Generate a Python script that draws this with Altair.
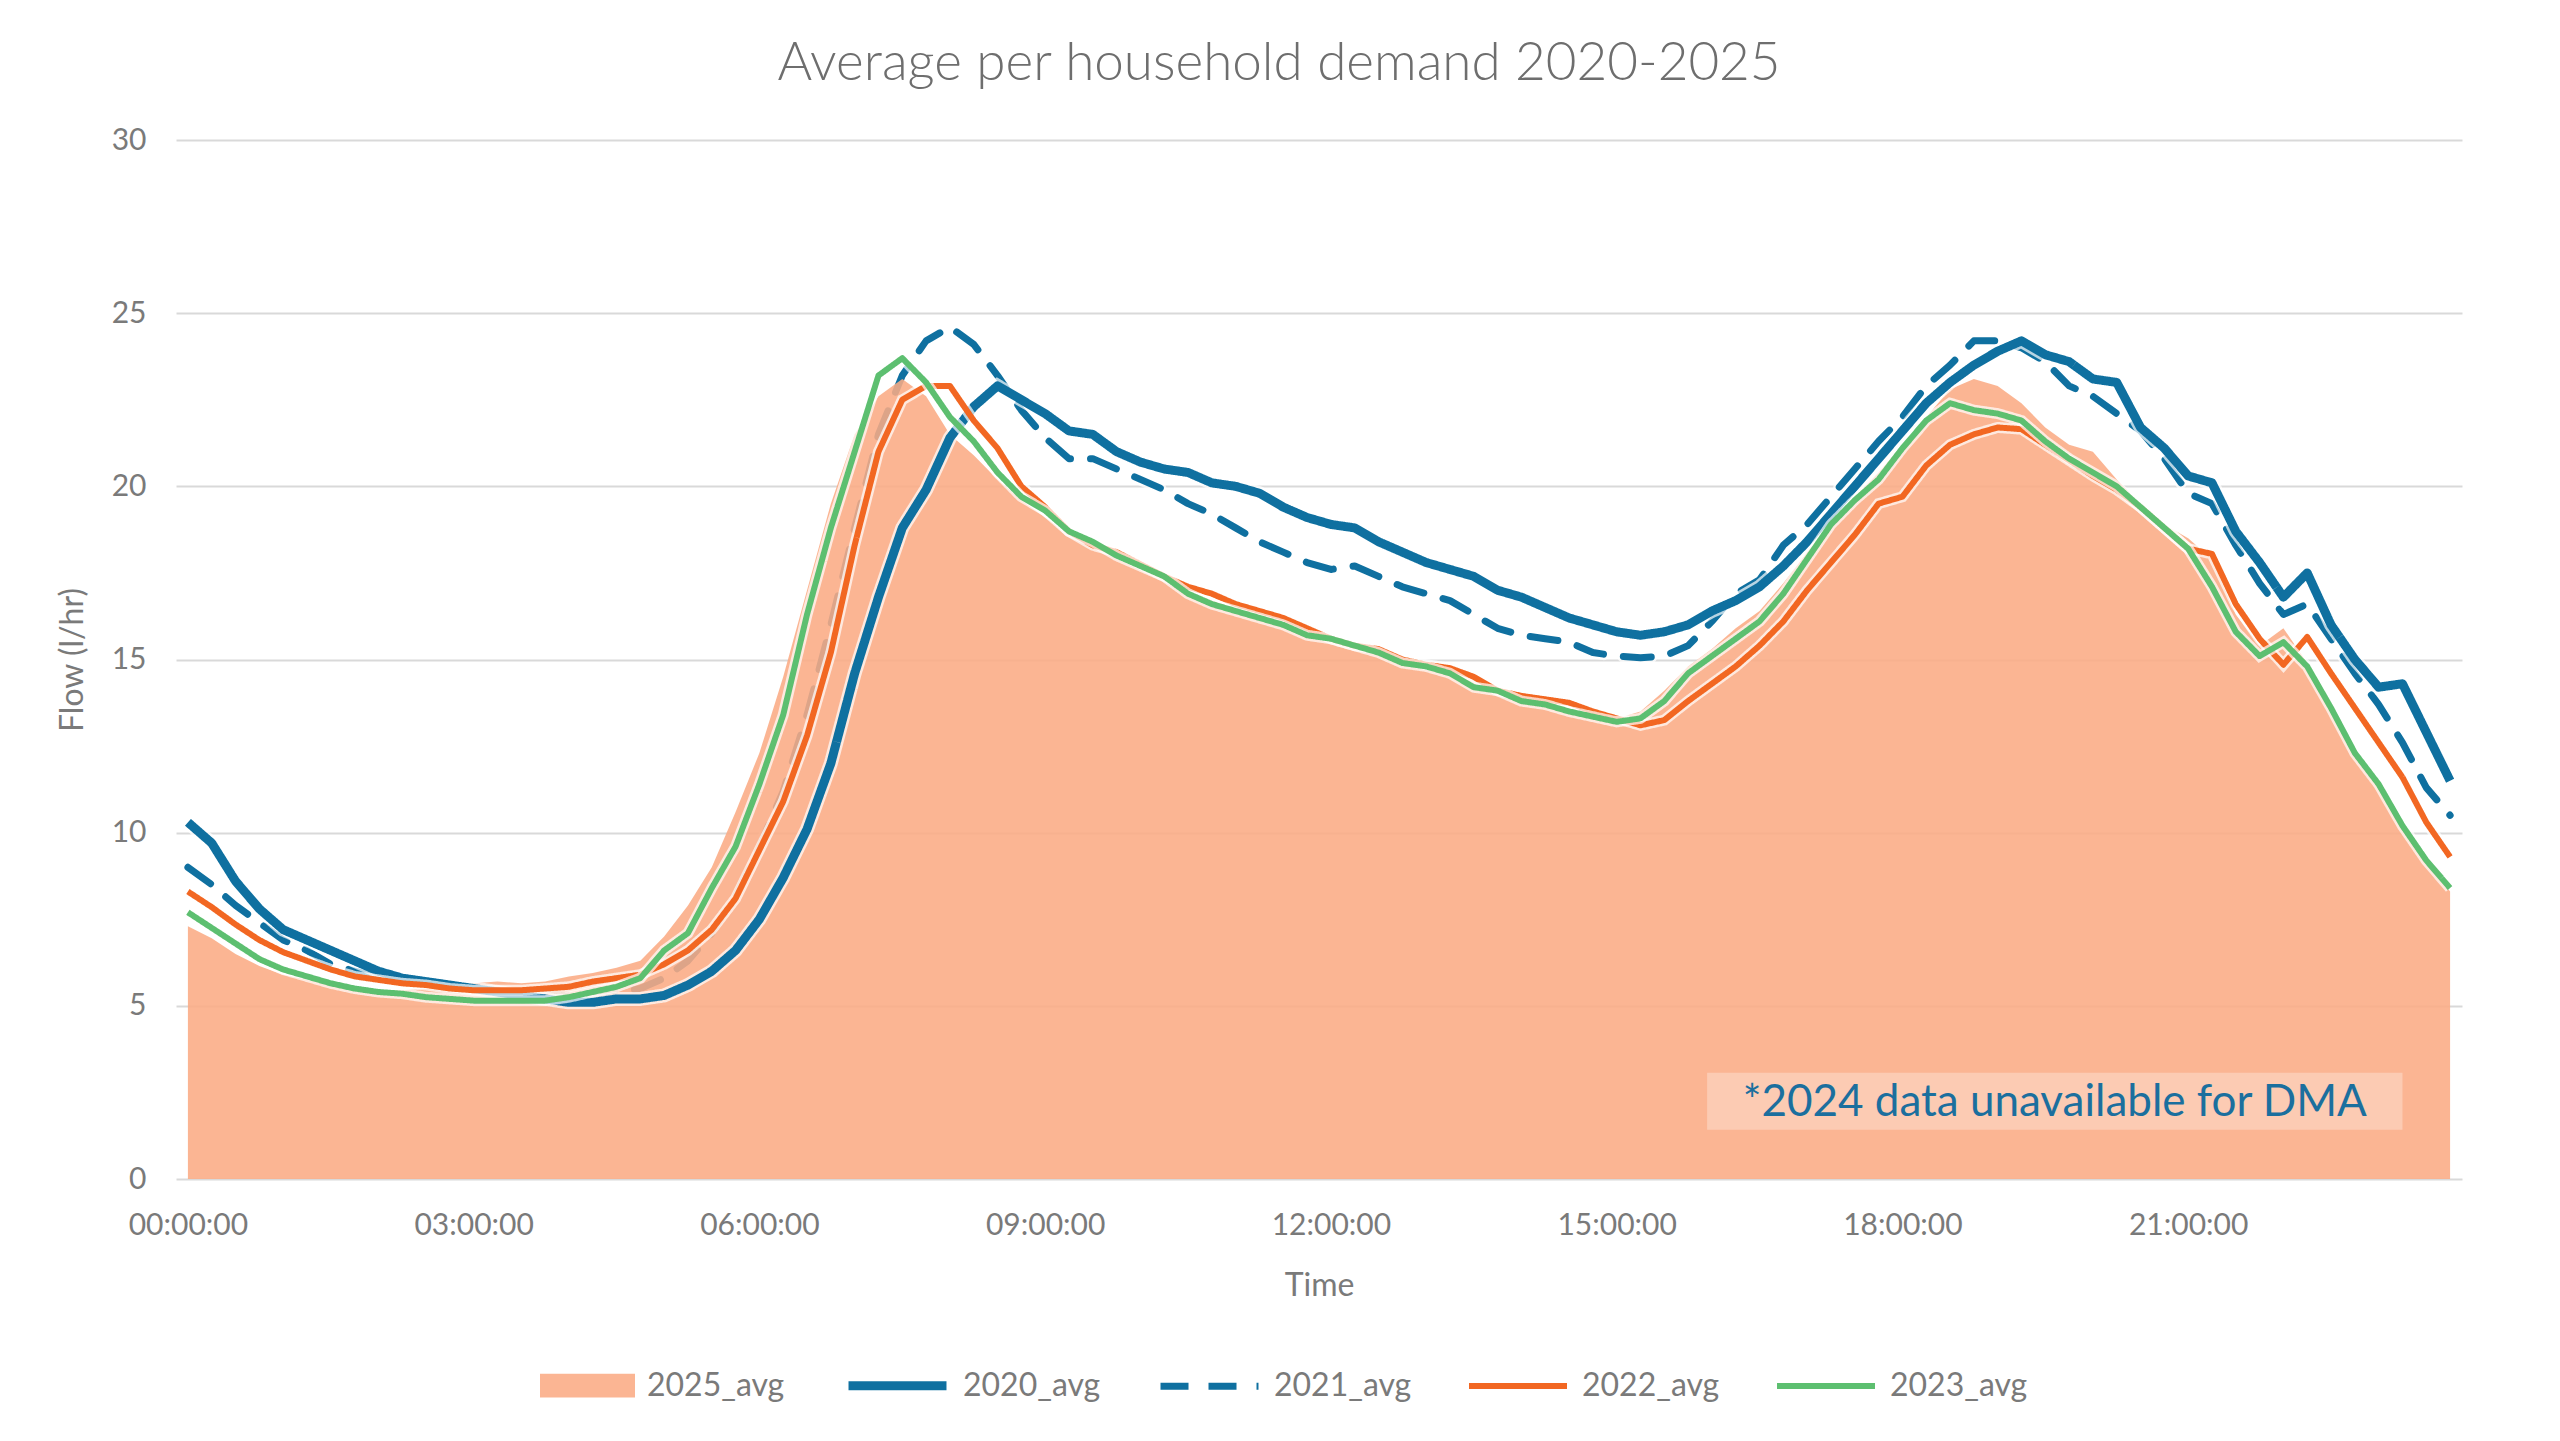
import altair as alt
import pandas as pd

# 15-minute time categories
times = [f"{i // 4:02d}:{(i % 4) * 15:02d}:00" for i in range(96)]

avg_2025 = [
    7.3, 6.95, 6.5, 6.15, 5.9, 5.75, 5.6, 5.5, 5.45, 5.45, 5.5, 5.55,
    5.65, 5.7, 5.65, 5.7, 5.85, 5.95, 6.1, 6.3, 7.0, 7.9, 9.0, 10.6,
    12.3, 14.5, 17.0, 19.5, 21.5, 22.6, 23.1, 22.6, 21.5, 20.9, 20.2, 19.6,
    19.1, 18.6, 18.3, 17.9, 17.6, 17.4, 17.0, 16.7, 16.5, 16.3, 16.1, 15.8,
    15.6, 15.45, 15.25, 15.0, 14.8, 14.7, 14.4, 14.1, 13.9, 13.8, 13.6, 13.45,
    13.3, 13.5, 14.1, 14.8, 15.3, 15.9, 16.4, 17.2, 18.1, 19.0, 19.7, 20.4,
    21.2, 22.0, 22.8, 23.1, 22.9, 22.4, 21.7, 21.2, 21.0, 20.2, 19.5, 18.9,
    18.5, 17.9, 16.3, 15.4, 15.9, 14.9, 13.6, 12.3, 11.3, 10.2, 9.2, 8.3,
]
avg_2020 = [
    10.3, 9.7, 8.6, 7.8, 7.2, 6.9, 6.6, 6.3, 6.0, 5.8, 5.7, 5.6,
    5.5, 5.4, 5.3, 5.2, 5.1, 5.1, 5.2, 5.2, 5.3, 5.6, 6.0, 6.6,
    7.5, 8.7, 10.1, 12.0, 14.6, 16.8, 18.8, 19.9, 21.4, 22.3, 22.9, 22.5,
    22.1, 21.6, 21.5, 21.0, 20.7, 20.5, 20.4, 20.1, 20.0, 19.8, 19.4, 19.1,
    18.9, 18.8, 18.4, 18.1, 17.8, 17.6, 17.4, 17.0, 16.8, 16.5, 16.2, 16.0,
    15.8, 15.7, 15.8, 16.0, 16.4, 16.7, 17.1, 17.7, 18.4, 19.2, 20.0, 20.8,
    21.6, 22.4, 23.0, 23.5, 23.9, 24.2, 23.8, 23.6, 23.1, 23.0, 21.7, 21.1,
    20.3, 20.1, 18.7, 17.8, 16.8, 17.5, 16.0, 15.0, 14.2, 14.3, 12.9, 11.5,
]
avg_2021 = [
    9.0, 8.5, 7.9, 7.4, 6.9, 6.6, 6.2, 6.0, 5.85, 5.75, 5.65, 5.55,
    5.5, 5.45, 5.4, 5.35, 5.3, 5.35, 5.4, 5.5, 5.8, 6.3, 7.1, 8.2,
    9.6, 11.2, 13.4, 16.0, 18.8, 21.5, 23.2, 24.2, 24.6, 24.1, 23.2, 22.2,
    21.4, 20.8, 20.8, 20.5, 20.2, 19.9, 19.5, 19.2, 18.8, 18.4, 18.1, 17.8,
    17.6, 17.7, 17.4, 17.1, 16.9, 16.7, 16.3, 15.9, 15.7, 15.6, 15.5, 15.2,
    15.1, 15.05, 15.1, 15.4, 16.1, 16.9, 17.3, 18.3, 18.9, 19.7, 20.5, 21.3,
    22.0, 22.9, 23.5, 24.2, 24.2, 24.0, 23.6, 22.9, 22.6, 22.1, 21.6, 20.8,
    19.8, 19.5, 18.3, 17.2, 16.3, 16.6, 15.6, 14.6, 13.7, 12.6, 11.3, 10.5,
]
avg_2022 = [
    8.3, 7.85, 7.35, 6.9, 6.55, 6.3, 6.05, 5.85, 5.75, 5.65, 5.6, 5.5,
    5.45, 5.45, 5.45, 5.5, 5.55, 5.7, 5.8, 5.9, 6.2, 6.6, 7.2, 8.1,
    9.5, 10.9, 12.8, 15.2, 18.3, 21.0, 22.5, 22.9, 22.9, 21.9, 21.1, 20.0,
    19.4, 18.7, 18.3, 18.1, 17.75, 17.4, 17.1, 16.9, 16.6, 16.4, 16.2, 15.9,
    15.6, 15.4, 15.3, 15.0, 14.85, 14.75, 14.5, 14.1, 13.95, 13.85, 13.75, 13.5,
    13.3, 13.1, 13.25, 13.8, 14.3, 14.8, 15.4, 16.1, 17.0, 17.8, 18.6, 19.5,
    19.7, 20.6, 21.2, 21.5, 21.7, 21.65, 21.2, 20.75, 20.3, 19.9, 19.4, 18.8,
    18.2, 18.05, 16.6, 15.6, 14.85, 15.65, 14.6, 13.6, 12.6, 11.6, 10.3, 9.3,
]
avg_2023 = [
    7.7, 7.25, 6.8, 6.35, 6.05, 5.85, 5.65, 5.5, 5.4, 5.35, 5.25, 5.2,
    5.15, 5.15, 5.15, 5.15, 5.25, 5.4, 5.55, 5.8, 6.6, 7.1, 8.4, 9.6,
    11.4, 13.4, 16.3, 18.8, 21.0, 23.2, 23.7, 23.0, 22.0, 21.3, 20.4, 19.7,
    19.3, 18.7, 18.4, 18.0, 17.7, 17.4, 16.9, 16.6, 16.4, 16.2, 16.0, 15.7,
    15.6, 15.4, 15.2, 14.9, 14.8, 14.6, 14.2, 14.1, 13.8, 13.7, 13.5, 13.35,
    13.2, 13.3, 13.8, 14.6, 15.1, 15.6, 16.1, 16.9, 17.9, 18.9, 19.6, 20.2,
    21.1, 21.9, 22.4, 22.2, 22.1, 21.9, 21.3, 20.8, 20.4, 20.0, 19.4, 18.8,
    18.2, 17.1, 15.8, 15.1, 15.5, 14.8, 13.6, 12.3, 11.4, 10.2, 9.2, 8.4,
]

line_names = ["2020_avg", "2021_avg", "2022_avg", "2023_avg"]
line_values = [avg_2020, avg_2021, avg_2022, avg_2023]
line_colors = ["#0f70a0", "#0f70a0", "#f26722", "#5dbf70"]
line_widths = [9, 7, 6, 6]
line_dashes = [[1, 0], [28, 20], [1, 0], [1, 0]]
area_name = "2025_avg"
area_color = "#fbab84"

x_ticks = [0, 3, 6, 9, 12, 15, 18, 21]
y_ticks = [0, 5, 10, 15, 20, 25, 30]

note_text = "*2024 data unavailable for DMA"
note_box = {"x": [15.95], "x2": [23.25], "y": [1.42], "y2": [3.07]}
note_pos = {"x": [19.6], "y": [2.2], "label": [note_text]}

hours = [int(t[:2]) + int(t[3:5]) / 60 for t in times]

df_area = pd.DataFrame({"h": hours, "v": avg_2025, "area_series": area_name})
rows = []
for name, vals in zip(line_names, line_values):
    for h, v in zip(hours, vals):
        rows.append({"h": h, "v": v, "series": name})
df_lines = pd.DataFrame(rows)

x_enc = alt.X(
    "h:Q",
    scale=alt.Scale(domain=[-0.125, 23.875], nice=False, zero=False),
    axis=alt.Axis(
        values=x_ticks,
        labelExpr="(datum.value < 10 ? '0' : '') + datum.value + ':00:00'",
        title="Time",
        grid=False,
        labelPadding=31,
        titlePadding=30,
    ),
)
y_enc = alt.Y(
    "v:Q",
    scale=alt.Scale(domain=[0, 30], nice=False),
    axis=alt.Axis(values=y_ticks, title="Flow (l/hr)", labelPadding=30, titlePadding=22),
)

area = alt.Chart(df_area).mark_area(opacity=0.88).encode(
    x=x_enc,
    y=y_enc,
    fill=alt.Fill(
        "area_series:N",
        scale=alt.Scale(domain=[area_name], range=[area_color]),
        legend=alt.Legend(
            orient="none",
            legendX=364,
            legendY=1198,
            title=None,
            symbolType="M-1,-0.25H1V0.25H-1Z",
            symbolSize=9025,
            symbolOpacity=0.88,
            symbolStrokeWidth=0,
            labelOffset=12,
        ),
    ),
)


def line_layers(name, w):
    dashed = name == "2021_avg"
    halo = (
        alt.Chart(df_lines)
        .transform_filter(alt.datum.series == name)
        .mark_line(color="white", strokeWidth=w + 5, opacity=0.7,
                   strokeCap="round" if dashed else "butt",
                   strokeDash=[28, 20] if dashed else [1, 0])
        .encode(x="h:Q", y="v:Q")
    )
    line = (
        alt.Chart(df_lines)
        .transform_filter(alt.datum.series == name)
        .mark_line(strokeCap="round" if dashed else "butt", strokeJoin="round")
        .encode(
            x="h:Q",
            y="v:Q",
            color=alt.Color(
                "series:N",
                scale=alt.Scale(domain=line_names, range=line_colors),
                legend=alt.Legend(
                    orient="none",
                    legendX=668,
                    legendY=1192,
                    direction="horizontal",
                    title=None,
                    symbolType="stroke",
                    symbolSize=9600,
                    labelOffset=12,
                    columnPadding=45,
                ),
            ),
            strokeDash=alt.StrokeDash(
                "series:N", scale=alt.Scale(domain=line_names, range=line_dashes)
            ),
            strokeWidth=alt.StrokeWidth(
                "series:N",
                scale=alt.Scale(type="ordinal", domain=line_names, range=line_widths),
            ),
        )
    )
    return [halo, line]


layers = []
layers += line_layers("2021_avg", 7)
layers.append(area)
layers += line_layers("2020_avg", 9)
layers += line_layers("2022_avg", 6)
layers += line_layers("2023_avg", 6)

box = alt.Chart(pd.DataFrame(note_box)).mark_rect(fill="white", opacity=0.3).encode(
    x="x:Q", x2="x2:Q", y="y:Q", y2="y2:Q"
)
txt = alt.Chart(pd.DataFrame(note_pos)).mark_text(
    fontSize=44, font="Lato", color="#1b6f9e", align="center", baseline="middle"
).encode(x="x:Q", y="y:Q", text="label:N")
layers += [box, txt]

chart = (
    alt.layer(*layers)
    .properties(
        width=2286,
        height=1039,
        title=alt.Title(
            "Average per household demand 2020-2025",
            fontSize=53,
            font="Lato",
            fontWeight=300,
            color="#6e6e6e",
            anchor="middle",
            offset=34,
            dx=-40,
        ),
        autosize=alt.AutoSizeParams(type="none"),
        padding={"left": 168, "top": 132, "right": 90, "bottom": 262},
    )
    .configure_view(stroke=None)
    .configure_axis(
        labelFont="Lato",
        titleFont="Lato",
        labelColor="#7a7a7a",
        titleColor="#7a7a7a",
        labelFontSize=30,
        titleFontSize=32,
        titleFontWeight="normal",
        domain=False,
        ticks=False,
        gridColor="#d9d9d9",
        gridWidth=2,
    )
    .configure_legend(labelFont="Lato", labelFontSize=32, labelColor="#7a7a7a", padding=0)
)

chart.save("out.html", embed_options={"renderer": "svg", "actions": False})
